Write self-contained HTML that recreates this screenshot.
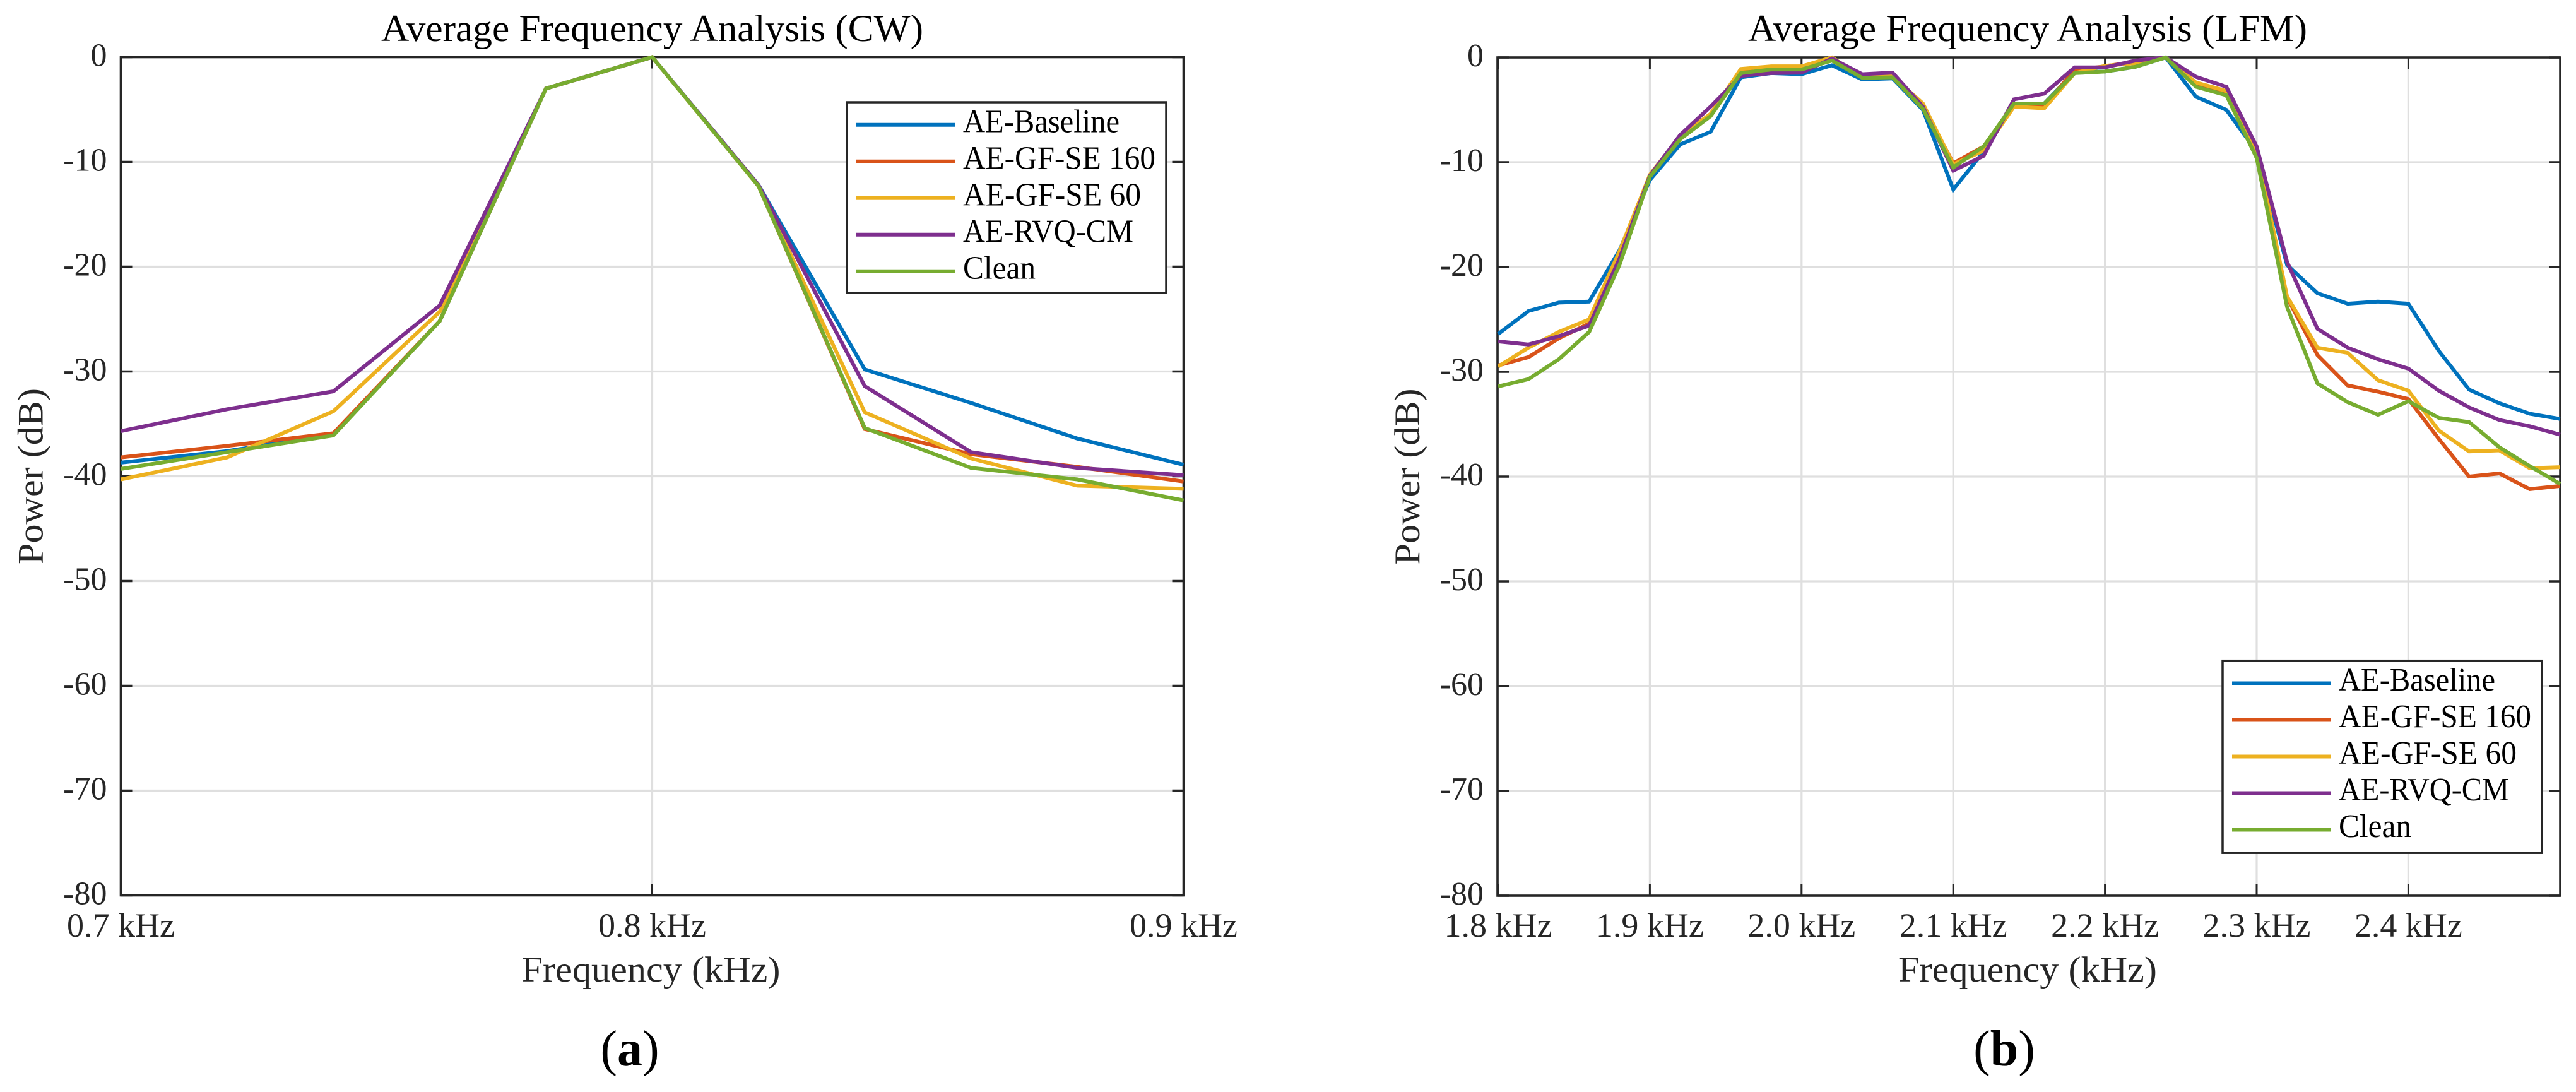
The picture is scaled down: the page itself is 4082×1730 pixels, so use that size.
<!DOCTYPE html>
<html lang="en">
<head>
<meta charset="utf-8">
<title>Average Frequency Analysis</title>
<style>
html,body{margin:0;padding:0;background:#fff;width:4082px;height:1730px;overflow:hidden}
svg{display:block}
text{font-family:"Liberation Serif","DejaVu Serif",serif}
</style>
</head>
<body>
<svg id="figure" xmlns="http://www.w3.org/2000/svg" width="4082" height="1730" viewBox="0 0 4082 1730"></svg>
<script>
const seriesNames = ['AE-Baseline','AE-GF-SE 160','AE-GF-SE 60','AE-RVQ-CM','Clean'];
const yTickValues = [0,-10,-20,-30,-40,-50,-60,-70,-80];

const cwFreq = [0.70,0.72,0.74,0.76,0.78,0.80,0.82,0.84,0.86,0.88,0.90];
const cwBaseline = [-38.7,-37.6,-36.0,-25.2,-3.0,0,-12.2,-29.8,-33.0,-36.4,-38.9];
const cwGf160 = [-38.2,-37.1,-35.9,-25.2,-3.0,0,-12.3,-35.5,-37.9,-39.1,-40.5];
const cwGf60 = [-40.3,-38.2,-33.8,-24.3,-3.0,0,-12.3,-33.9,-38.3,-40.9,-41.2];
const cwRvq = [-35.7,-33.6,-31.9,-23.7,-3.0,0,-12.2,-31.4,-37.7,-39.2,-39.9];
const cwClean = [-39.3,-37.7,-36.1,-25.2,-3.0,0,-12.3,-35.4,-39.2,-40.3,-42.3];
const cwTicks = [0.7,0.8,0.9];

const lfmFreq = [1.80,1.82,1.84,1.86,1.88,1.90,1.92,1.94,1.96,1.98,2.00,2.02,2.04,2.06,2.08,2.10,2.12,2.14,2.16,2.18,2.20,2.22,2.24,2.26,2.28,2.30,2.32,2.34,2.36,2.38,2.40,2.42,2.44,2.46,2.48,2.50];
const lfmBaseline = [-26.4,-24.2,-23.4,-23.3,-18.4,-11.7,-8.3,-7.1,-1.9,-1.5,-1.6,-0.75,-2.1,-2.0,-5.0,-12.6,-9.0,-4.4,-4.4,-1.4,-1.35,-0.9,0,-3.75,-5.0,-9.0,-19.8,-22.5,-23.5,-23.3,-23.5,-28.0,-31.7,-33.0,-34.0,-34.5];
const lfmGf160 = [-29.4,-28.6,-26.8,-25.4,-19.2,-11.3,-7.6,-5.4,-1.35,-1.1,-0.9,-0.1,-1.9,-1.8,-4.6,-10.1,-8.5,-4.6,-4.6,-1.2,-0.85,-0.4,0,-2.7,-3.4,-8.8,-22.9,-28.4,-31.3,-31.9,-32.6,-36.4,-40.0,-39.7,-41.2,-40.9];
const lfmGf60 = [-29.5,-27.7,-26.2,-25.0,-18.5,-11.2,-7.5,-5.4,-1.1,-0.85,-0.85,0,-1.9,-1.8,-4.4,-10.2,-8.9,-4.7,-4.85,-1.5,-0.8,-0.55,0,-2.4,-3.2,-8.8,-22.8,-27.7,-28.2,-30.8,-31.8,-35.6,-37.6,-37.5,-39.2,-39.1];
const lfmRvq = [-27.1,-27.4,-26.6,-25.6,-19.2,-11.3,-7.4,-4.7,-1.75,-1.5,-1.45,-0.1,-1.6,-1.45,-4.7,-10.8,-9.4,-4.0,-3.45,-0.95,-0.95,-0.3,0,-1.85,-2.8,-8.5,-19.5,-25.9,-27.7,-28.8,-29.7,-31.8,-33.4,-34.6,-35.2,-36.0];
const lfmClean = [-31.4,-30.7,-28.8,-26.2,-19.8,-11.4,-7.8,-5.6,-1.5,-1.15,-1.15,-0.3,-1.95,-1.9,-4.9,-10.5,-8.5,-4.4,-4.4,-1.5,-1.35,-0.9,0,-2.8,-3.6,-9.6,-23.8,-31.1,-32.9,-34.1,-32.8,-34.4,-34.8,-37.2,-39.0,-40.7];
const lfmTicks = [1.8,1.9,2.0,2.1,2.2,2.3,2.4];

const seriesColors = ['#0072BD','#D95319','#EDB120','#7E2F8E','#77AC30'];
const INK = '#262626';
const GRID = '#dfdfdf';
const NS = 'http://www.w3.org/2000/svg';
const root = document.getElementById('figure');

function mk(tag, attrs, parent, txt){
  const e = document.createElementNS(NS, tag);
  for (const k in attrs) e.setAttribute(k, attrs[k]);
  if (txt !== undefined) e.textContent = txt;
  (parent || root).appendChild(e);
  return e;
}

function drawPanel(cfg){
  const g = mk('g', {}, root);
  
  

  const x = f => cfg.xLeft + (f - cfg.xMin) * cfg.xScale;
  const y = v => cfg.yTop - v * cfg.yScale;
  const yBottom = y(-80);

  /* grid */
  cfg.xTicks.forEach(t => {
    const l = mk('line', {x1:x(t), x2:x(t), y1:cfg.yTop, y2:yBottom, stroke:GRID, 'stroke-width':3.2}, g);
    
    
  });
  yTickValues.slice(1,-1).forEach(t => {
    const l = mk('line', {x1:cfg.axisLeft, x2:cfg.axisRight, y1:y(t), y2:y(t), stroke:GRID, 'stroke-width':3.2}, g);
    
    
  });

  /* ticks */
  cfg.xTicks.forEach(t => {
    const a = mk('line', {x1:x(t), x2:x(t), y1:yBottom, y2:yBottom-18, stroke:INK, 'stroke-width':3}, g);
    
    
    const b = mk('line', {x1:x(t), x2:x(t), y1:cfg.yTop, y2:cfg.yTop+18, stroke:INK, 'stroke-width':3}, g);
    
    
    const lab = mk('text', {x:x(t), y:1484, 'text-anchor':'middle', 'font-size':54, fill:INK}, g, t.toFixed(1) + ' kHz');
    
    
  });
  yTickValues.forEach(t => {
    const a = mk('line', {x1:cfg.axisLeft, x2:cfg.axisLeft+18, y1:y(t), y2:y(t), stroke:INK, 'stroke-width':3.4}, g);
    
    
    const b = mk('line', {x1:cfg.axisRight, x2:cfg.axisRight-18, y1:y(t), y2:y(t), stroke:INK, 'stroke-width':3.4}, g);
    
    
    const lab = mk('text', {x:cfg.axisLeft-22, y:y(t)+14, 'text-anchor':'end', 'font-size':52, fill:INK}, g, String(t));
    
    
  });

  /* axes box */
  const box = mk('rect', {x:cfg.axisLeft, y:cfg.yTop, width:cfg.axisRight-cfg.axisLeft, height:yBottom-cfg.yTop, fill:'none', stroke:INK, 'stroke-width':3.6}, g);
  
  

  /* series */
  cfg.series.forEach((vals, i) => {
    const pts = vals.map((v, k) => x(cfg.freq[k]).toFixed(1) + ',' + y(v).toFixed(1)).join(' ');
    const p = mk('polyline', {points:pts, fill:'none', stroke:seriesColors[i], 'stroke-width':6, 'stroke-linejoin':'miter', 'stroke-linecap':'butt'}, g);
    
    
  });

  /* titles */
  const cx = (cfg.axisLeft + cfg.axisRight) / 2;
  const title = mk('text', {x:cx + cfg.titleShift, y:65, 'text-anchor':'middle', 'font-size':60, fill:'#000', textLength:cfg.titleWidth, lengthAdjust:'spacingAndGlyphs'}, g, cfg.title);
  
  
  const xt = mk('text', {x:cx-2, y:1555, 'text-anchor':'middle', 'font-size':57, fill:INK, textLength:410, lengthAdjust:'spacingAndGlyphs'}, g, 'Frequency (kHz)');
  
  
  const yx = cfg.axisLeft - 124, yc = (cfg.yTop + yBottom) / 2;
  const yt = mk('text', {x:yx, y:yc, transform:'rotate(-90 ' + yx + ' ' + yc + ')', 'text-anchor':'middle', 'font-size':57, fill:INK, textLength:279, lengthAdjust:'spacingAndGlyphs'}, g, 'Power (dB)');
  
  

  /* legend */
  const lg = mk('g', {}, g);
  
  
  const L = cfg.legend;
  const lb = mk('rect', {x:L.x, y:L.y, width:L.w, height:L.h, fill:'#fff', stroke:INK, 'stroke-width':3.5}, lg);
  
  
  const legendTextWidths = [248,305,282,270,115];
  seriesNames.forEach((n, i) => {
    const ly = L.y + 35.8 + i * 58;
    const s = mk('line', {x1:L.x+15, x2:L.x+171, y1:ly, y2:ly, stroke:seriesColors[i], 'stroke-width':6}, lg);
    
    
    const t = mk('text', {x:L.x+184, y:ly+11.7, 'font-size':52, fill:'#000', textLength:legendTextWidths[i], lengthAdjust:'spacingAndGlyphs'}, lg, n);
    
    
  });

  /* sub-caption */
  const cap = mk('text', {x:cfg.capX, y:1688, 'text-anchor':'middle', 'font-size':80, fill:'#000'}, g);
  
  
  mk('tspan', {}, cap, '(');
  mk('tspan', {'font-weight':'bold'}, cap, cfg.capLetter);
  mk('tspan', {}, cap, ')');
}

drawPanel({
  id:'cw', title:'Average Frequency Analysis (CW)', titleWidth:859, titleShift:0,
  freq:cwFreq, series:[cwBaseline,cwGf160,cwGf60,cwRvq,cwClean], xTicks:cwTicks,
  xLeft:191.5, xMin:0.7, xScale:8420, axisLeft:191.5, axisRight:1875.5,
  yTop:90.5, yScale:16.6,
  legend:{x:1342,y:162,w:506,h:302}, capX:998, capLetter:'a'
});

drawPanel({
  id:'lfm', title:'Average Frequency Analysis (LFM)', titleWidth:886, titleShift:-2,
  freq:lfmFreq, series:[lfmBaseline,lfmGf160,lfmGf60,lfmRvq,lfmClean], xTicks:lfmTicks,
  xLeft:2374, xMin:1.8, xScale:2404, axisLeft:2373, axisRight:4057,
  yTop:91, yScale:16.6,
  legend:{x:3522,y:1046.7,w:506,h:304.5}, capX:3176, capLetter:'b'
});
</script>
</body>
</html>
